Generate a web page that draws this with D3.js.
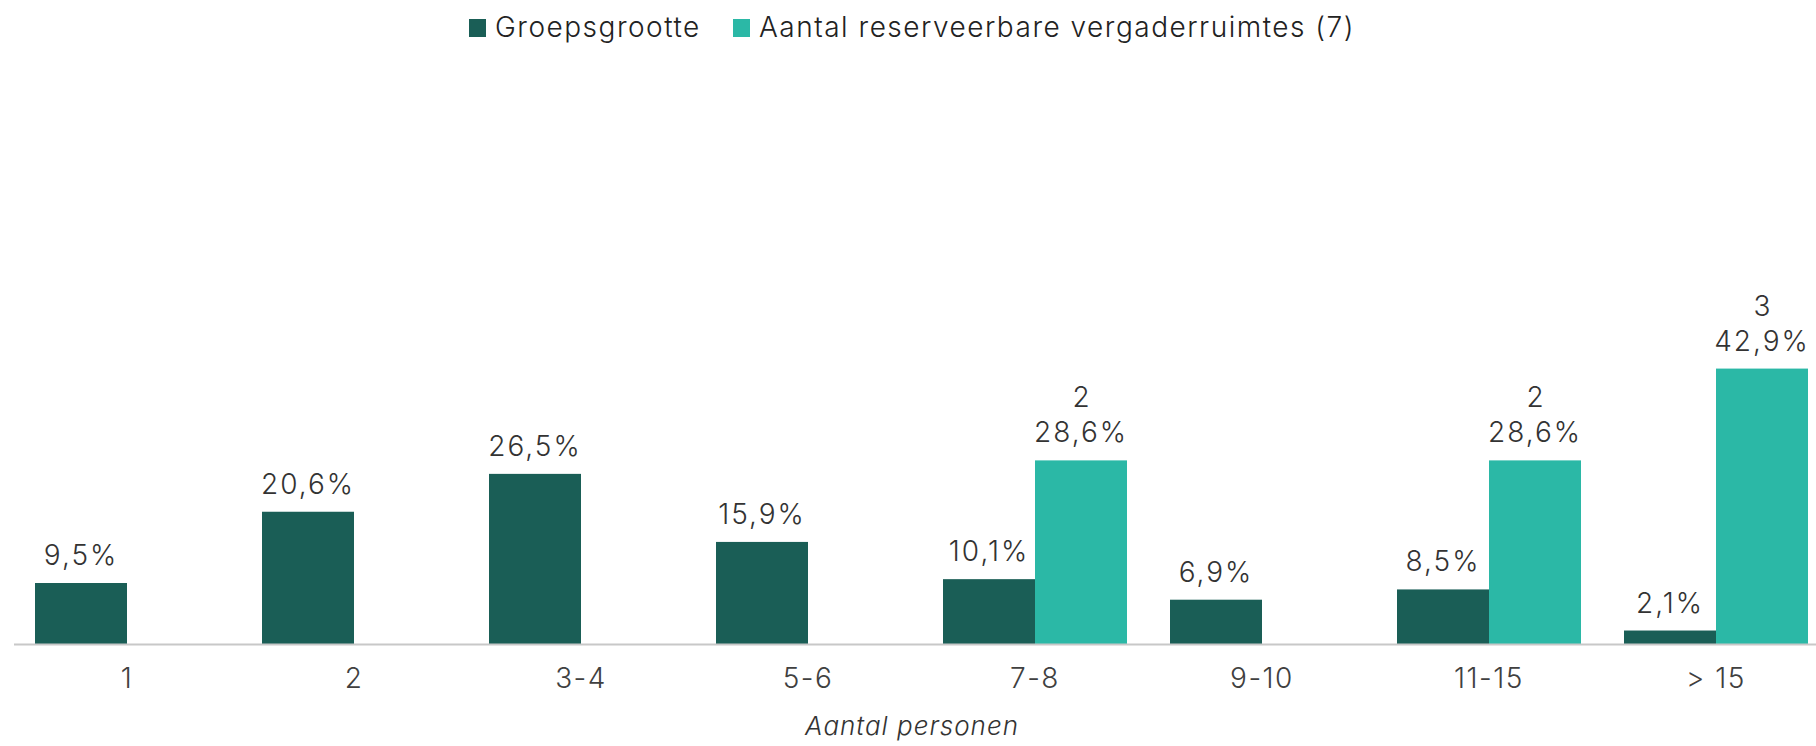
<!DOCTYPE html>
<html>
<head>
<meta charset="utf-8">
<script src="https://cdn.jsdelivr.net/npm/d3@7"></script>
<style>
    html, body { margin: 0; padding: 0; background: #fff; }
    svg text { font-family: "Inter", "Lato", sans-serif; font-weight: 300; }
</style>
</head>
<body>
<div id="chart"></div>
<script>
// categorieën (aantal personen)
const categories = ['1', '2', '3-4', '5-6', '7-8', '9-10', '11-15', '> 15'];
// groepsgrootte in %
const groepsgrootte = [9.5, 20.6, 26.5, 15.9, 10.1, 6.9, 8.5, 2.1];
// reserveerbare vergaderruimtes in % (null = geen)
const ruimtesPct = [null, null, null, null, 28.6, null, 28.6, 42.9];
const ruimtesAantal = [null, null, null, null, 2, null, 2, 3];
const seriesNames = ['Groepsgrootte', 'Aantal reserveerbare vergaderruimtes (7)'];
const colors = ['#1a5e56', '#2bb8a6'];

const W = 1816, H = 746;
const baseY = 644;

const svg = d3.select('#chart').append('svg')
    .attr('width', W)
    .attr('height', H);

const x0 = d3.scaleBand()
    .domain(categories)
    .range([13.5, 13.5 + 227 * categories.length])
    .paddingInner(1 - 184 / 227)
    .paddingOuter((1 - 184 / 227) / 2);

const x1 = d3.scaleBand()
    .domain([0, 1])
    .range([0, x0.bandwidth()]);

const y = d3.scaleLinear()
    .domain([0, 50])
    .range([baseY, baseY - 50 * 6.42]);

const rows = categories.map((c, i) => ({
    cat: c,
    vals: [groepsgrootte[i], ruimtesPct[i]],
    count: ruimtesAantal[i]
}));

const fmt = v => d3.format('.1f')(v).replace('.', ',') + '%';

// staven
const groups = svg.append('g').selectAll('g')
    .data(rows)
    .join('g')
    .attr('transform', d => `translate(${x0(d.cat)},0)`);

groups.selectAll('rect')
    .data(d => d.vals.map((v, k) => ({ v, k })).filter(e => e.v !== null))
    .join('rect')
    .attr('x', e => x1(e.k))
    .attr('y', e => y(e.v))
    .attr('width', x1.bandwidth())
    .attr('height', e => baseY - y(e.v))
    .attr('fill', e => colors[e.k]);

// waardelabels
groups.selectAll('text.val')
    .data(d => d.vals.map((v, k) => ({ v, k })).filter(e => e.v !== null))
    .join('text')
    .attr('class', 'val')
    .attr('x', e => x1(e.k) + x1.bandwidth() / 2)
    .attr('y', e => y(e.v) - 18)
    .attr('text-anchor', 'middle')
    .attr('fill', '#333')
    .style('font-size', '28px')
    .style('letter-spacing', '2px')
    .text(e => fmt(e.v));

// aantallen boven de percentages
groups.filter(d => d.count !== null)
    .append('text')
    .attr('x', x1(1) + x1.bandwidth() / 2)
    .attr('y', d => y(d.vals[1]) - 18 - 35)
    .attr('text-anchor', 'middle')
    .attr('fill', '#333')
    .style('font-size', '28px')
    .text(d => d.count);

// x-as
const xAxis = d3.axisBottom(x0).tickSize(0).tickPadding(24);
const gx = svg.append('g')
    .attr('transform', `translate(0,${baseY})`)
    .call(xAxis);
gx.select('.domain').attr('stroke', '#c8c8c8').attr('stroke-width', 2);
gx.selectAll('.tick text')
    .attr('fill', '#404040')
    .style('font-size', '28px')
    .style('letter-spacing', '1.5px');

svg.append('text')
    .attr('x', 912)
    .attr('y', 735)
    .attr('text-anchor', 'middle')
    .attr('fill', '#333')
    .style('font-size', '26px')
    .style('font-style', 'italic')
    .style('letter-spacing', '1px')
    .text('Aantal personen');

// legenda
const legend = svg.append('g').attr('transform', 'translate(469, 19)');
const legendX = [0, 264];
seriesNames.forEach((name, i) => {
    const item = legend.append('g').attr('transform', `translate(${legendX[i]},0)`);
    item.append('rect')
        .attr('width', 17)
        .attr('height', 18)
        .attr('fill', colors[i]);
    item.append('text')
        .attr('x', 26)
        .attr('y', 18)
        .attr('fill', '#222')
        .style('font-size', '28px')
        .style('letter-spacing', '1.5px')
        .text(name);
});
</script>
</body>
</html>
